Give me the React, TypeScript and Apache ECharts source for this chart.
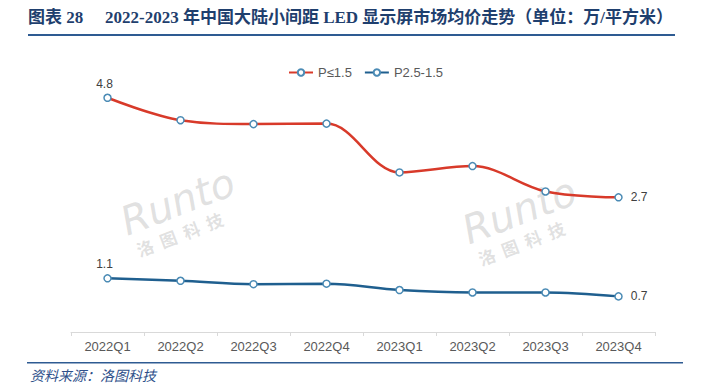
import React, { useEffect, useRef } from "react";
import * as echarts from "echarts";

const categories = ["2022Q1", "2022Q2", "2022Q3", "2022Q4", "2023Q1", "2023Q2", "2023Q3", "2023Q4"];
const smallPitch = [4.8, 4.34, 4.26, 4.27, 3.27, 3.4, 2.88, 2.76];
const midPitch = [1.1, 1.05, 0.98, 0.99, 0.86, 0.81, 0.81, 0.73];
const seriesNames = ["P≤1.5", "P2.5-1.5"];
const labelText = ["4.8", "2.7", "1.1", "0.7"];
const titleLead = "图表 28";
const titleText = "2022-2023 年中国大陆小间距 LED 显示屏市场均价走势（单位：万/平方米）";
const sourceText = "资料来源：洛图科技";
const watermarkWord = "Runto";
const watermarkName = "洛  图  科  技";
const watermarkAnchors = [[0, 1.88], [5, 1.88]];

export default function App() {
  const ref = useRef<HTMLDivElement>(null);
  useEffect(() => {
    if (!ref.current) return;
    const chart = echarts.init(ref.current, null, { renderer: "svg" });
    const mkSeries = (name: string, data: number[], color: string, first: string, last: string) => ({
      name,
      type: "line",
      data,
      smooth: 0.35,
      symbol: "circle",
      symbolSize: 7,
      z: 3,
      lineStyle: { color, width: 2.5 },
      itemStyle: { color: "#ffffff", borderColor: "#4b8bb5", borderWidth: 1.5 },
      label: {
        show: true,
        formatter: (p: any) => {
          if (p.dataIndex === 0) return first;
          if (p.dataIndex === categories.length - 1) return last;
          return "";
        },
        position: "top",
        color: "#404040",
        fontSize: 12,
        fontFamily: "Liberation Sans",
      },
      labelLayout: (params: any) => {
        if (params.dataIndex === categories.length - 1) {
          return { x: params.rect.x + params.rect.width + 8, y: params.rect.y + params.rect.height / 2, align: "left", verticalAlign: "middle" };
        }
        return { dx: -3, dy: 1 };
      },
      emphasis: { disabled: true },
    });
    const wmColor = "rgba(170,170,170,0.45)";
    const wmOffsets = [[20, 0], [-5, 0]];
    chart.setOption({
      animation: false,
      backgroundColor: "#ffffff",
      tooltip: { show: false },
      grid: { left: 71, right: 50, top: 88, bottom: 59, containLabel: false },
      legend: {
        top: 61,
        left: 283,
        itemWidth: 24,
        itemHeight: 8,
        itemGap: 12,
        textStyle: { color: "#595959", fontSize: 13, fontFamily: "Liberation Sans" },
        data: seriesNames,
      },
      xAxis: {
        type: "category",
        data: categories,
        boundaryGap: true,
        axisLine: { lineStyle: { color: "#d9d9d9", width: 1 } },
        axisTick: { show: true, lineStyle: { color: "#d9d9d9" }, length: 4 },
        axisLabel: { color: "#595959", fontSize: 13, fontFamily: "Liberation Sans", margin: 8 },
      },
      yAxis: { type: "value", min: 0, max: 5, show: false, splitLine: { show: false } },
      graphic: [
        { type: "text", left: 28, top: 9, style: { text: titleLead, fill: "#1f3f6e", font: "bold 17px 'Liberation Serif', 'Noto Sans CJK SC', serif" } },
        { type: "text", left: 105, top: 9, style: { text: titleText, fill: "#1f3f6e", font: "bold 17px 'Liberation Serif', 'Noto Sans CJK SC', serif" } },
        { type: "rect", shape: { x: 28, y: 34, width: 647, height: 2 }, style: { fill: "#2e5b92" } },
        { type: "rect", shape: { x: 27, y: 362, width: 656, height: 1.5 }, style: { fill: "#2e5b92" } },
        { type: "text", left: 30, top: 368, style: { text: sourceText, fill: "#2e4f8a", font: "italic 14px 'Noto Sans CJK SC'" } },
      ],
      series: [
        {
          type: "scatter",
          name: "watermark",
          silent: true,
          z: 0,
          symbolSize: 0,
          data: watermarkAnchors.map((v, i) => ({ value: v, label: { offset: wmOffsets[i] } })),
          itemStyle: { color: "transparent" },
          label: {
            show: true,
            position: "inside",
            rotate: 21,
            formatter: `{a|${watermarkWord}}\n{b|${watermarkName}}`,
            align: "left",
            rich: {
              a: { fontSize: 40, fontStyle: "italic", fontFamily: "DejaVu Sans", color: wmColor, lineHeight: 40, align: "left" },
              b: { fontSize: 17, fontWeight: "bold", fontFamily: "Noto Sans CJK SC", color: wmColor, lineHeight: 22, align: "left", padding: [0, 0, 0, 4] },
            },
          },
          emphasis: { disabled: true },
        },
        mkSeries(seriesNames[0], smallPitch, "#d83a2a", labelText[0], labelText[1]),
        mkSeries(seriesNames[1], midPitch, "#1f5f8f", labelText[2], labelText[3]),
      ],
    });
    return () => chart.dispose();
  }, []);
  return <div ref={ref} style={{ width: 705, height: 391, position: "absolute", left: 0, top: 0 }} />;
}
